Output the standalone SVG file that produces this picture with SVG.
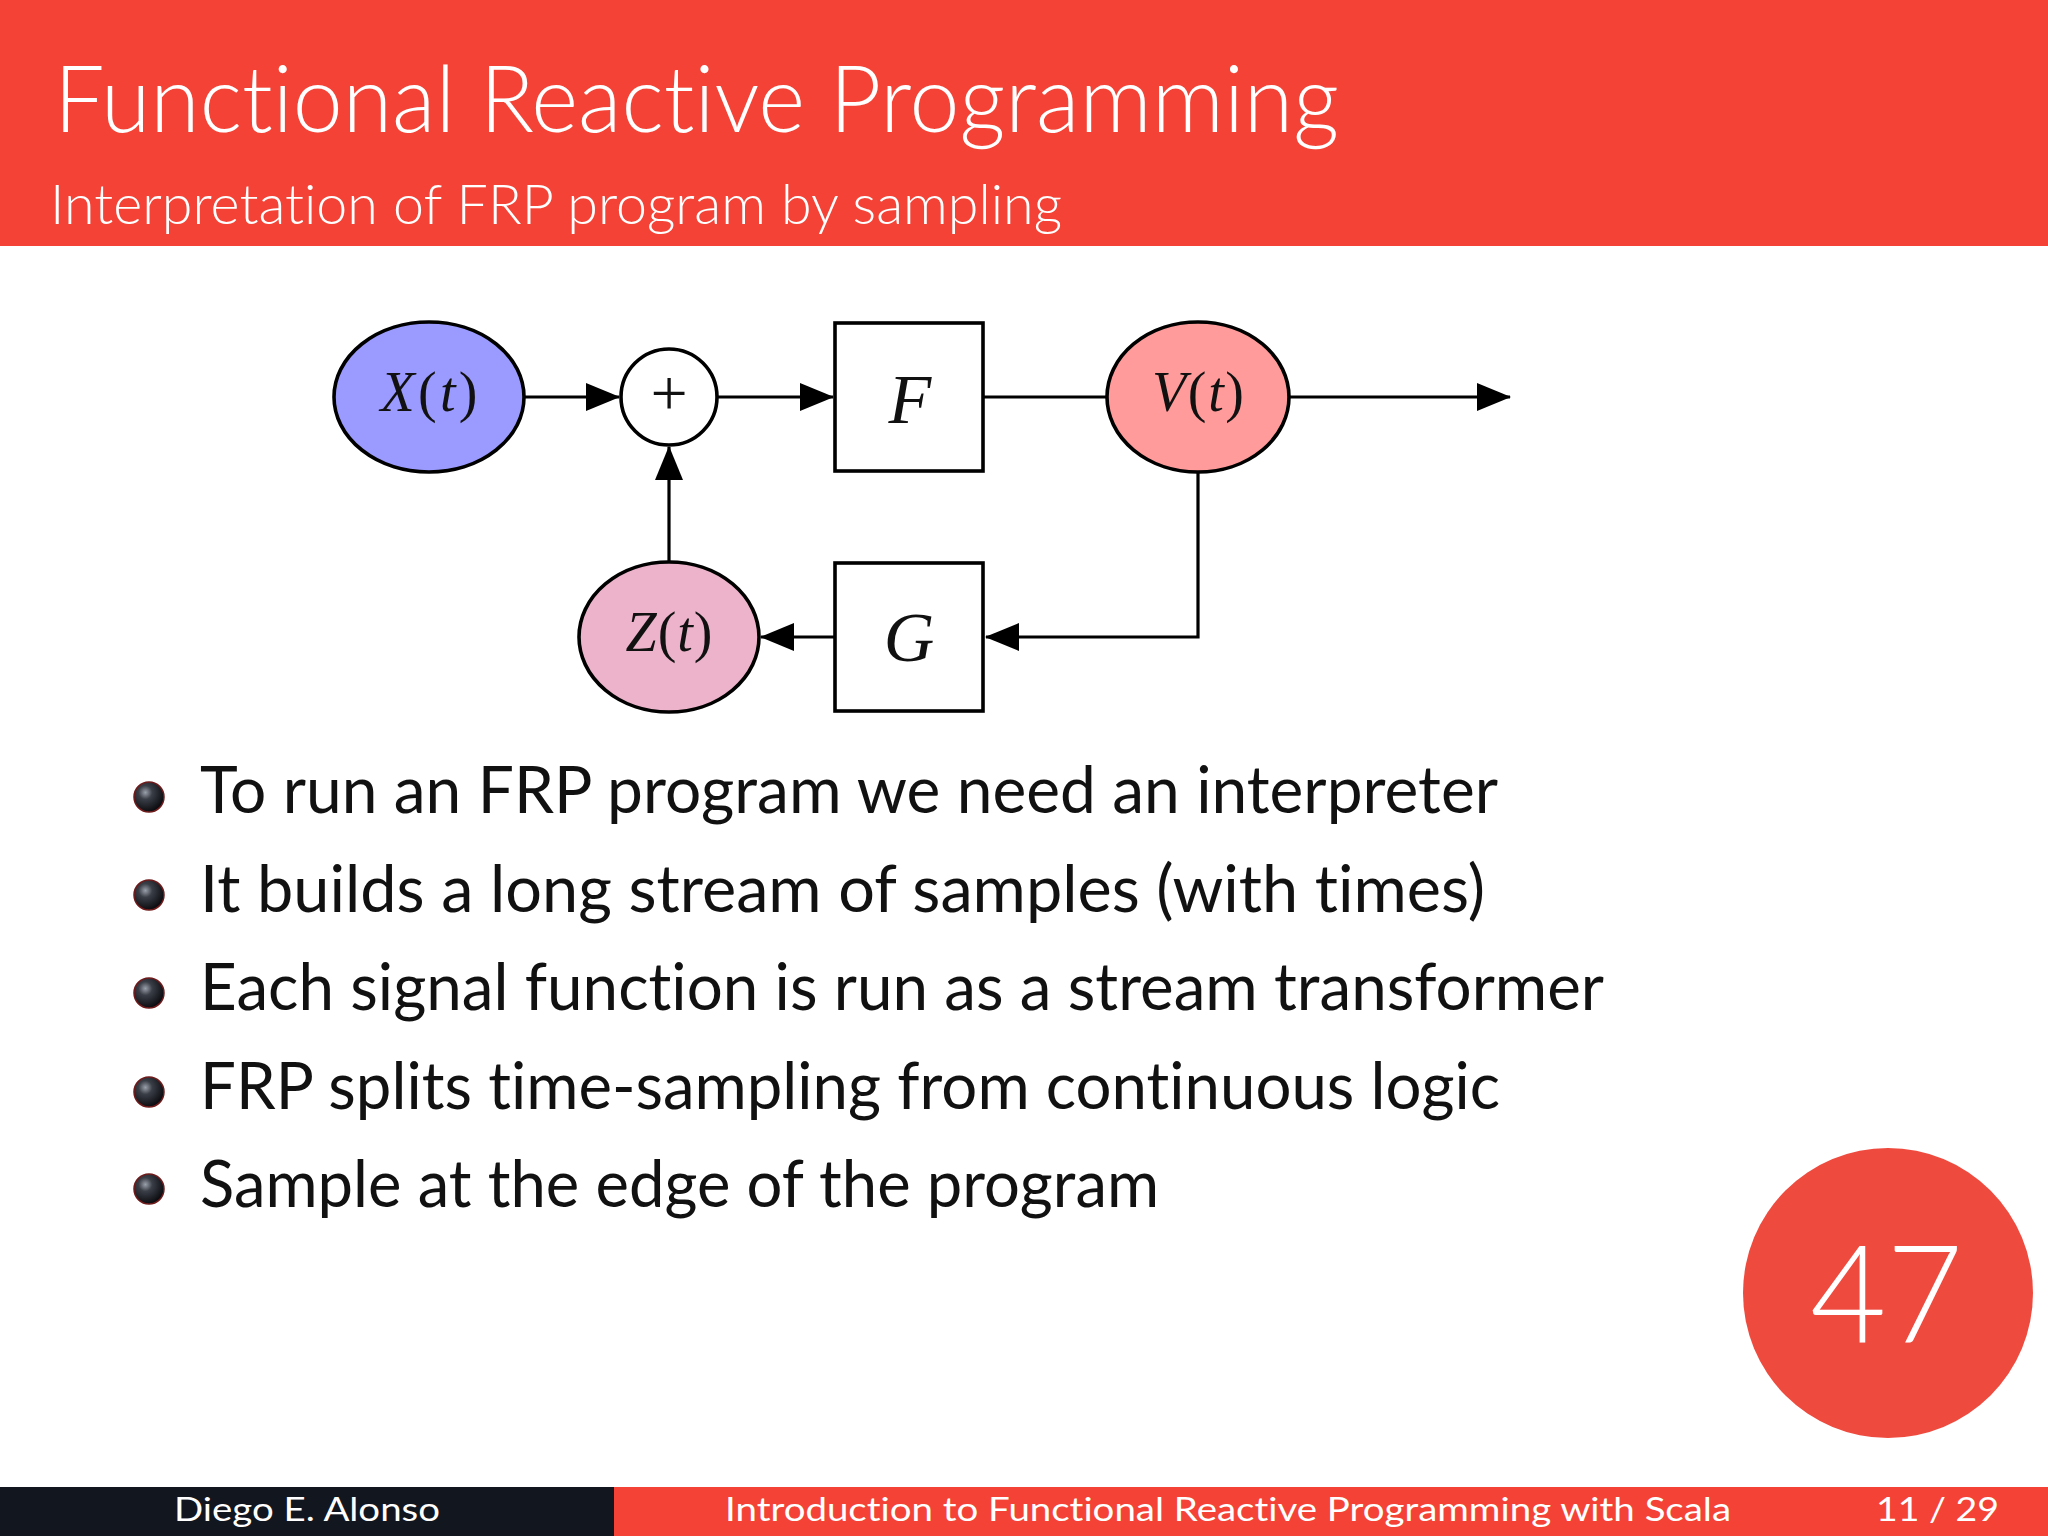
<svg xmlns="http://www.w3.org/2000/svg" width="2048" height="1536" viewBox="0 0 2048 1536">
<defs>
<style>
.sans{font-family:"Lato","Open Sans","Liberation Sans",sans-serif;font-variant-ligatures:none;font-feature-settings:"liga" 0,"clig" 0;}
.math{font-family:"Liberation Serif","DejaVu Serif",serif;fill:#111;}
.it{font-style:italic;}
.node{stroke:#000;stroke-width:3.6;}
.conn{stroke:#000;stroke-width:3.2;fill:none;}
.bullet{font-size:66px;fill:#111;}
.foot{font-size:32px;fill:#fff;}
</style>
<marker id="arr" markerUnits="userSpaceOnUse" viewBox="0 0 34 28" refX="33" refY="14" markerWidth="34" markerHeight="28" orient="auto">
<path d="M0,0 L34,14 L0,28 z" fill="#000"/>
</marker>
<radialGradient id="ball" cx="0.38" cy="0.35" r="0.65">
<stop offset="0" stop-color="#9aa0aa"/>
<stop offset="0.35" stop-color="#3a3e47"/>
<stop offset="1" stop-color="#0b0c10"/>
</radialGradient>
</defs>
<rect x="0" y="0" width="2048" height="1536" fill="#fff"/>
<g id="header">
<rect x="0" y="0" width="2048" height="246" fill="#F44336"/>
<text class="sans" x="54" y="132" font-size="92" font-weight="300" fill="#fff" textLength="1285" lengthAdjust="spacingAndGlyphs">Functional Reactive Programming</text>
<text class="sans" x="50" y="224" font-size="55" font-weight="300" fill="#fff" textLength="1012" lengthAdjust="spacingAndGlyphs">Interpretation of FRP program by sampling</text>
</g>
<g id="connectors">
<line class="conn" x1="524" y1="397" x2="619" y2="397" marker-end="url(#arr)"/>
<line class="conn" x1="717" y1="397" x2="833" y2="397" marker-end="url(#arr)"/>
<line class="conn" x1="984" y1="397" x2="1107" y2="397"/>
<line class="conn" x1="1289" y1="397" x2="1510" y2="397" marker-end="url(#arr)"/>
<polyline class="conn" points="1198,471 1198,637 986,637" marker-end="url(#arr)"/>
<line class="conn" x1="834" y1="637" x2="761" y2="637" marker-end="url(#arr)"/>
<line class="conn" x1="669" y1="562" x2="669" y2="447" marker-end="url(#arr)"/>
</g>
<g id="node-X">
<ellipse class="node" cx="429" cy="397" rx="95" ry="75" fill="#9B9BFF"/>
<text class="math" x="429" y="411" font-size="56" text-anchor="middle" textLength="97" lengthAdjust="spacing"><tspan class="it">X</tspan>(<tspan class="it">t</tspan>)</text>
</g>
<g id="node-plus">
<circle class="node" cx="669" cy="397" r="48" fill="#fff"/>
<text class="math" x="669" y="415" font-size="66" text-anchor="middle">+</text>
</g>
<g id="node-F">
<rect class="node" x="835" y="323" width="148" height="148" fill="#fff"/>
<text class="math it" x="910" y="423" font-size="70" text-anchor="middle">F</text>
</g>
<g id="node-V">
<ellipse class="node" cx="1198" cy="397" rx="91" ry="75" fill="#FF9B9B"/>
<text class="math" x="1198" y="411" font-size="56" text-anchor="middle" textLength="92" lengthAdjust="spacing"><tspan class="it">V</tspan>(<tspan class="it">t</tspan>)</text>
</g>
<g id="node-G">
<rect class="node" x="835" y="563" width="148" height="148" fill="#fff"/>
<text class="math it" x="909" y="661" font-size="70" text-anchor="middle">G</text>
</g>
<g id="node-Z">
<ellipse class="node" cx="669" cy="637" rx="90" ry="75" fill="#EDB3CA"/>
<text class="math" x="669" y="651" font-size="56" text-anchor="middle" textLength="87" lengthAdjust="spacing"><tspan class="it">Z</tspan>(<tspan class="it">t</tspan>)</text>
</g>
<g id="bullets">
<circle cx="149" cy="797" r="15" fill="url(#ball)" stroke="#6e1a1a" stroke-width="1.5"/>
<circle cx="149" cy="895" r="15" fill="url(#ball)" stroke="#6e1a1a" stroke-width="1.5"/>
<circle cx="149" cy="993" r="15" fill="url(#ball)" stroke="#6e1a1a" stroke-width="1.5"/>
<circle cx="149" cy="1092" r="15" fill="url(#ball)" stroke="#6e1a1a" stroke-width="1.5"/>
<circle cx="149" cy="1189" r="15" fill="url(#ball)" stroke="#6e1a1a" stroke-width="1.5"/>
<text class="sans bullet" x="200" y="813" textLength="1298" lengthAdjust="spacingAndGlyphs">To run an FRP program we need an interpreter</text>
<text class="sans bullet" x="200" y="912" textLength="1285" lengthAdjust="spacingAndGlyphs">It builds a long stream of samples (with times)</text>
<text class="sans bullet" x="200" y="1010" textLength="1404" lengthAdjust="spacingAndGlyphs">Each signal function is run as a stream transformer</text>
<text class="sans bullet" x="200" y="1109" textLength="1300" lengthAdjust="spacingAndGlyphs">FRP splits time-sampling from continuous logic</text>
<text class="sans bullet" x="200" y="1207" textLength="959" lengthAdjust="spacingAndGlyphs">Sample at the edge of the program</text>
</g>
<g id="page-badge">
<circle cx="1888" cy="1293" r="145" fill="#EF4A3E"/>
<text class="sans" x="1810" y="1343" font-size="136" font-weight="300" fill="#fff" textLength="153" lengthAdjust="spacingAndGlyphs">47</text>
</g>
<g id="footer">
<rect x="0" y="1487" width="614" height="49" fill="#12161F"/>
<rect x="614" y="1487" width="1434" height="49" fill="#F44336"/>
<text class="sans foot" x="174" y="1521" textLength="266" lengthAdjust="spacingAndGlyphs">Diego E. Alonso</text>
<text class="sans foot" x="725" y="1521" textLength="1006" lengthAdjust="spacingAndGlyphs">Introduction to Functional Reactive Programming with Scala</text>
<text class="sans foot" x="1876" y="1521" textLength="123" lengthAdjust="spacingAndGlyphs">11 / 29</text>
</g>
</svg>
